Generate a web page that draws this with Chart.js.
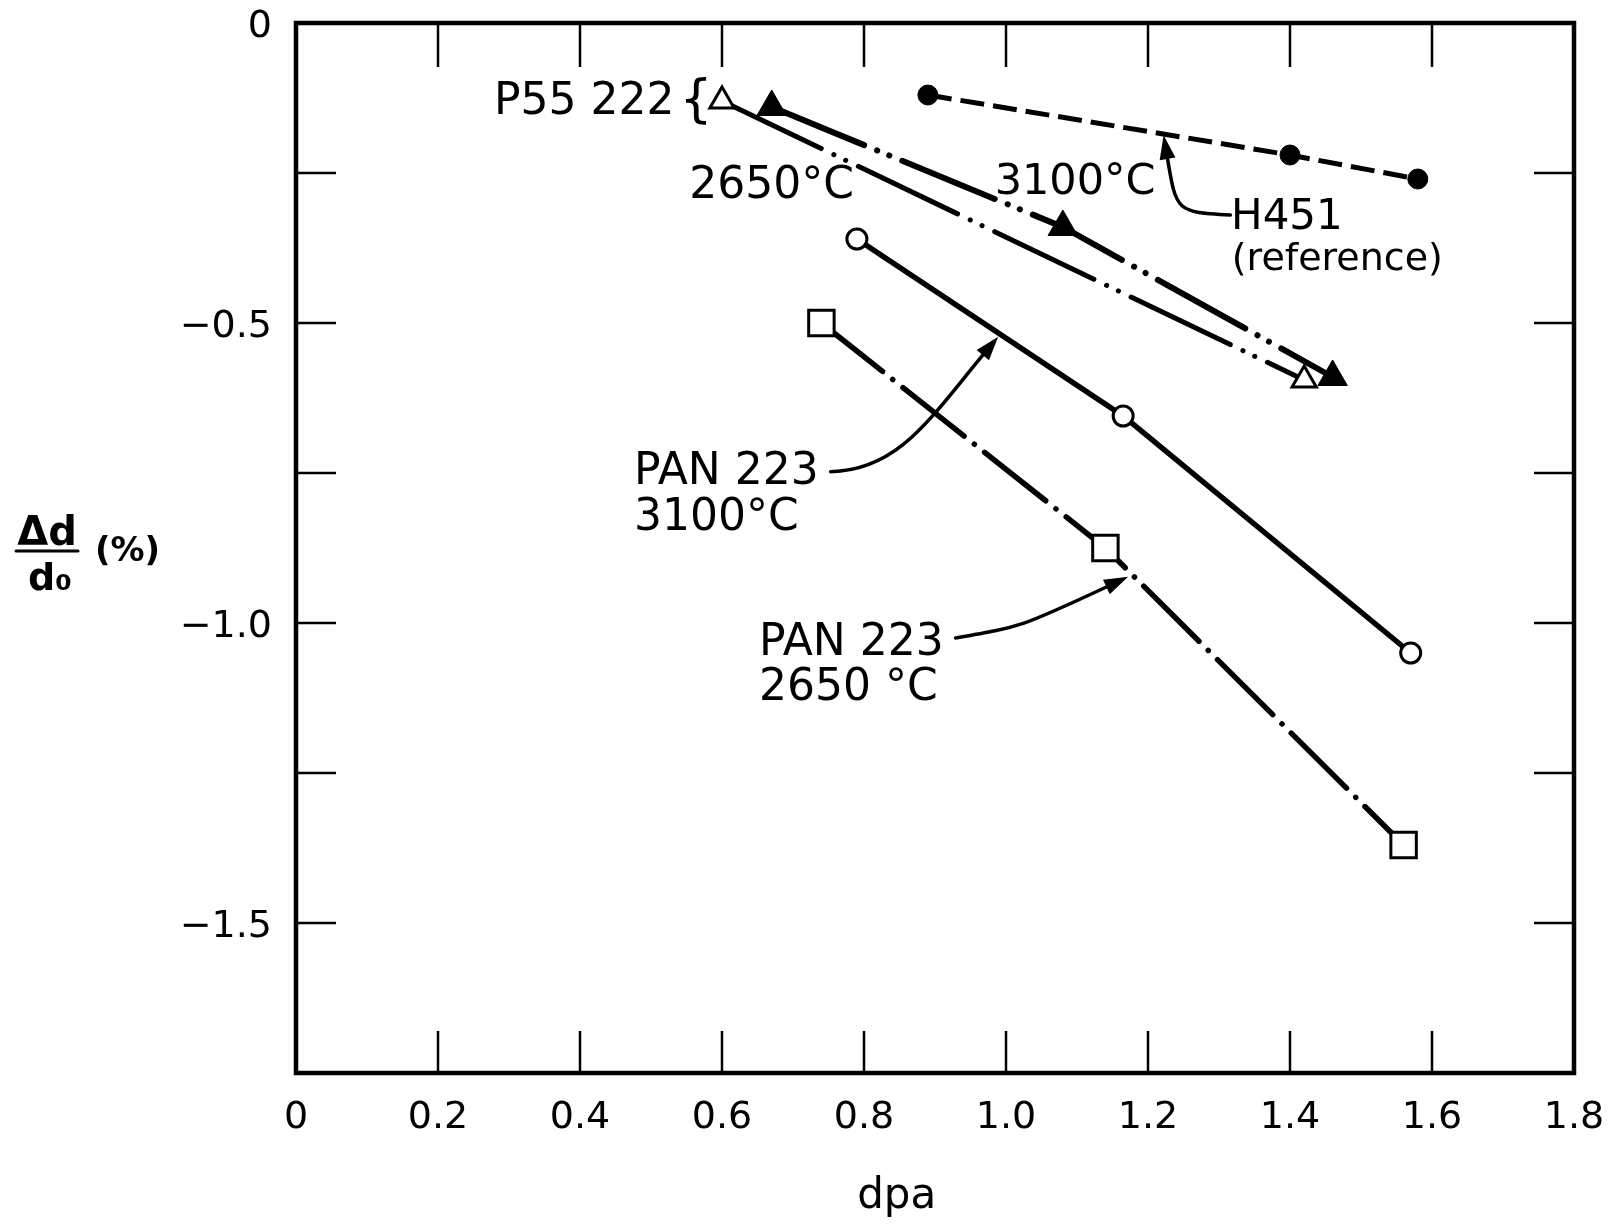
<!DOCTYPE html>
<html>
<head>
<meta charset="utf-8">
<script src="https://cdn.jsdelivr.net/npm/chart.js@4.4.1/dist/chart.umd.min.js"></script>
<style>
  html, body { margin: 0; padding: 0; background: #fff; }
  #wrap { width: 1618px; height: 1226px; position: relative; }
</style>
</head>
<body>
<div id="wrap"><canvas id="myChart"></canvas></div>
<script>
// tick labels
const xTickValues = [0, 0.2, 0.4, 0.6, 0.8, 1.0, 1.2, 1.4, 1.6, 1.8];
const xTickLabels = ['0', '0.2', '0.4', '0.6', '0.8', '1.0', '1.2', '1.4', '1.6', '1.8'];
const yTickValues = [0, -0.5, -1.0, -1.5];
const yTickLabels = ['0', '\u22120.5', '\u22121.0', '\u22121.5'];

// series (dpa vs delta d / d0 in %)
const h451Dpa = [0.89, 1.40, 1.58];
const h451Change = [-0.12, -0.22, -0.26];

const p55LowDpa = [0.60, 1.42];          // P55 222, 2650 C (open triangles)
const p55LowChange = [-0.13, -0.595];

const p55HighDpa = [0.67, 1.08, 1.46];   // P55 222, 3100 C (filled triangles)
const p55HighChange = [-0.14, -0.34, -0.59];

const pan3100Dpa = [0.79, 1.165, 1.57];
const pan3100Change = [-0.36, -0.655, -1.05];

const pan2650Dpa = [0.74, 1.14, 1.56];
const pan2650Change = [-0.50, -0.875, -1.37];

function pts(xs, ys) {
  return xs.map((x, i) => ({ x: x, y: ys[i] }));
}

// labels and arrows placed in data units
const notes = [
  { text: 'P55 222', x: 0.533, y: -0.133, size: 44, align: 'right' },
  { text: '{', x: 0.540, y: -0.133, size: 52, align: 'left' },
  { text: '2650°C', x: 0.554, y: -0.272, size: 44, align: 'left' },
  { text: '3100°C', x: 0.984, y: -0.267, size: 43, align: 'left' },
  { text: 'H451', x: 1.317, y: -0.325, size: 42, align: 'left' },
  { text: '(reference)', x: 1.318, y: -0.395, size: 38, align: 'left' },
  { text: 'PAN 223', x: 0.476, y: -0.75, size: 44, align: 'left' },
  { text: '3100°C', x: 0.476, y: -0.826, size: 44, align: 'left' },
  { text: 'PAN 223', x: 0.652, y: -1.035, size: 44, align: 'left' },
  { text: '2650 °C', x: 0.652, y: -1.11, size: 44, align: 'left' },
  { text: 'dpa', x: 0.846, y: null, size: 42, align: 'center' }
];
const arrows = [
  { from: [1.316, -0.320], c1: [1.240, -0.315], c2: [1.240, -0.315], to: [1.222, -0.187] },
  { from: [0.753, -0.748], c1: [0.848, -0.745], c2: [0.891, -0.662], to: [0.989, -0.523] },
  { from: [0.929, -1.025], c1: [1.022, -1.006], c2: [1.022, -1.006], to: [1.172, -0.923] }
];

Chart.defaults.font.family = "'DejaVu Sans', sans-serif";
Chart.defaults.color = '#000';

const framePlugin = {
  id: 'frame',
  beforeDatasetsDraw(chart) {
    const { ctx, chartArea: a, scales } = chart;
    ctx.save();
    ctx.strokeStyle = '#000';
    ctx.lineWidth = 2.5;
    scales.x.ticks.forEach(t => {
      if (t.value <= 0.001 || t.value >= 1.799) return;
      const px = scales.x.getPixelForValue(t.value);
      ctx.beginPath();
      ctx.moveTo(px, a.bottom); ctx.lineTo(px, a.bottom - 42);
      ctx.moveTo(px, a.top); ctx.lineTo(px, a.top + 44);
      ctx.stroke();
    });
    scales.y.ticks.forEach(t => {
      if (t.value >= -0.001 || t.value <= -1.749) return;
      const py = scales.y.getPixelForValue(t.value);
      ctx.beginPath();
      ctx.moveTo(a.left, py); ctx.lineTo(a.left + 40, py);
      ctx.moveTo(a.right, py); ctx.lineTo(a.right - 40, py);
      ctx.stroke();
    });
    ctx.lineWidth = 4.5;
    ctx.strokeRect(a.left, a.top, a.right - a.left, a.bottom - a.top);
    ctx.restore();
  },
  afterDraw(chart) {
    const { ctx, chartArea: a, scales } = chart;
    const X = v => scales.x.getPixelForValue(v);
    const Y = v => scales.y.getPixelForValue(v);
    ctx.save();
    ctx.fillStyle = '#000';
    ctx.strokeStyle = '#000';
    ctx.textBaseline = 'middle';
    notes.forEach(n => {
      ctx.font = n.size + "px 'DejaVu Sans'";
      ctx.textAlign = n.align;
      // the axis name sits below the x tick labels
      const py = n.y === null ? a.bottom + 124 : Y(n.y);
      ctx.fillText(n.text, X(n.x), py);
    });
    arrows.forEach(ar => {
      const p0 = [X(ar.from[0]), Y(ar.from[1])];
      const c1 = [X(ar.c1[0]), Y(ar.c1[1])];
      const c2 = [X(ar.c2[0]), Y(ar.c2[1])];
      const p3 = [X(ar.to[0]), Y(ar.to[1])];
      const ang = Math.atan2(p3[1] - c2[1], p3[0] - c2[0]);
      const len = 24, half = 8;
      const bx = p3[0] - Math.cos(ang) * len, by = p3[1] - Math.sin(ang) * len;
      ctx.lineWidth = 3.5;
      ctx.lineCap = 'round';
      ctx.beginPath();
      ctx.moveTo(p0[0], p0[1]);
      ctx.bezierCurveTo(c1[0], c1[1], c2[0], c2[1], bx, by);
      ctx.stroke();
      ctx.beginPath();
      ctx.moveTo(p3[0], p3[1]);
      ctx.lineTo(bx - Math.sin(ang) * half, by + Math.cos(ang) * half);
      ctx.lineTo(bx + Math.sin(ang) * half, by - Math.cos(ang) * half);
      ctx.closePath();
      ctx.fill();
    });
    // y axis title: delta d over d0 (%)
    const lx = a.left - 249;
    ctx.textAlign = 'center';
    ctx.textBaseline = 'alphabetic';
    ctx.font = "bold 40px 'DejaVu Sans'";
    ctx.fillText('\u0394d', lx, 545);
    ctx.lineWidth = 3;
    ctx.beginPath();
    ctx.moveTo(lx - 31, 551); ctx.lineTo(lx + 31, 551);
    ctx.stroke();
    ctx.font = "bold 38px 'DejaVu Sans'";
    ctx.fillText('d\u2080', lx + 3, 590);
    ctx.textAlign = 'left';
    ctx.textBaseline = 'middle';
    ctx.font = "bold 34px 'DejaVu Sans'";
    ctx.fillText('(%)', 95, 552);
    ctx.restore();
  }
};

const ctx = document.getElementById('myChart');

new Chart(ctx, {
  type: 'scatter',
  data: {
    datasets: [
      {
        label: 'H451 (reference)',
        data: pts(h451Dpa, h451Change),
        showLine: true,
        borderColor: '#000',
        borderWidth: 5,
        borderDash: [24, 9],
        pointStyle: 'circle',
        pointRadius: 10,
        pointBackgroundColor: '#000',
        pointBorderColor: '#000',
        pointBorderWidth: 1
      },
      {
        label: 'P55 222 2650°C',
        data: pts(p55LowDpa, p55LowChange),
        showLine: true,
        borderColor: '#000',
        borderWidth: 5,
        borderCapStyle: 'round',
        borderDash: [110, 14, 0.1, 13, 0.1, 14],
        pointStyle: 'triangle',
        pointRadius: 14,
        pointBackgroundColor: '#fff',
        pointBorderColor: '#000',
        pointBorderWidth: 3
      },
      {
        label: 'P55 222 3100°C',
        data: pts(p55HighDpa, p55HighChange),
        showLine: true,
        borderColor: '#000',
        borderWidth: 6,
        borderCapStyle: 'round',
        borderDash: [100, 14, 0.1, 13, 0.1, 14],
        pointStyle: 'triangle',
        pointRadius: 17,
        pointBackgroundColor: '#000',
        pointBorderColor: '#000',
        pointBorderWidth: 1
      },
      {
        label: 'PAN 223 3100°C',
        data: pts(pan3100Dpa, pan3100Change),
        showLine: true,
        borderColor: '#000',
        borderWidth: 5.5,
        pointStyle: 'circle',
        pointRadius: 10,
        pointBackgroundColor: '#fff',
        pointBorderColor: '#000',
        pointBorderWidth: 3
      },
      {
        label: 'PAN 223 2650°C',
        data: pts(pan2650Dpa, pan2650Change),
        showLine: true,
        borderColor: '#000',
        borderWidth: 5.5,
        borderCapStyle: 'round',
        borderDash: [78, 13, 0.1, 13],
        pointStyle: 'rect',
        pointRadius: 18,
        pointBackgroundColor: '#fff',
        pointBorderColor: '#000',
        pointBorderWidth: 3
      }
    ]
  },
  options: {
    responsive: true,
    maintainAspectRatio: false,
    animation: false,
    layout: { autoPadding: false, padding: { left: 0, right: 44, top: 23, bottom: 0 } },
    plugins: {
      legend: { display: false },
      tooltip: { enabled: false }
    },
    scales: {
      x: {
        type: 'linear',
        min: 0,
        max: 1.8,
        grid: { display: false, drawTicks: false },
        border: { display: false },
        ticks: {
          stepSize: 0.2,
          autoSkip: false,
          maxRotation: 0,
          padding: 22,
          font: { size: 38 },
          callback: v => {
            const i = xTickValues.findIndex(t => Math.abs(t - v) < 1e-6);
            return i >= 0 ? xTickLabels[i] : '';
          }
        },
        title: { display: false },
        afterFit: s => {
          s.height = 153;
          s.paddingLeft = 0;
          s.paddingRight = 0;
        }
      },
      y: {
        type: 'linear',
        min: -1.75,
        max: 0,
        grid: { display: false, drawTicks: false },
        border: { display: false },
        ticks: {
          stepSize: 0.25,
          autoSkip: false,
          padding: 24,
          labelOffset: 4,
          font: { size: 38 },
          callback: v => {
            const i = yTickValues.findIndex(t => Math.abs(t - v) < 1e-6);
            return i >= 0 ? yTickLabels[i] : '';
          }
        },
        afterFit: s => {
          s.width = 296;
          s.paddingTop = 0;
          s.paddingBottom = 0;
        }
      }
    }
  },
  plugins: [framePlugin]
});
</script>
</body>
</html>
